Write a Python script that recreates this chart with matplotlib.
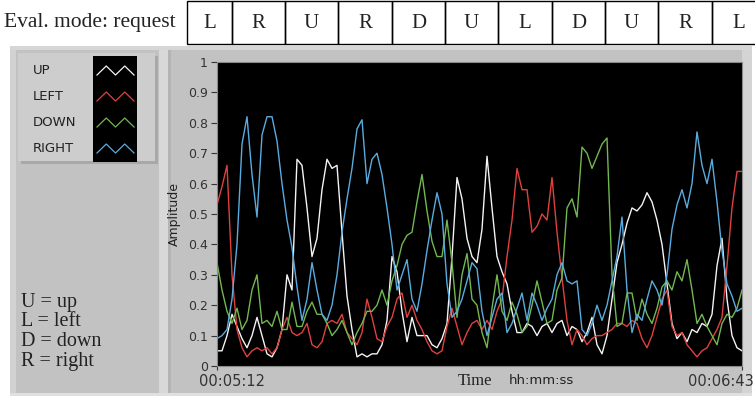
import numpy as np
import matplotlib.pyplot as plt
from matplotlib.patches import Rectangle
import matplotlib.transforms as mtrans

# requested directions shown in the header row
requests = ["L", "R", "U", "R", "D", "U", "L", "D", "U", "R", "L"]

# amplitude traces, sampled evenly between 00:05:12 and 00:06:43 (91 s)
t_start, t_end = 0, 91
up = [0.05, 0.05, 0.10, 0.17, 0.13, 0.09, 0.06, 0.10, 0.16, 0.10,
      0.04, 0.03, 0.06, 0.12, 0.30, 0.25, 0.68, 0.66, 0.52, 0.36,
      0.42, 0.58, 0.68, 0.65, 0.66, 0.44, 0.23, 0.12, 0.03, 0.04,
      0.03, 0.04, 0.04, 0.07, 0.15, 0.36, 0.31, 0.18, 0.08, 0.16,
      0.10, 0.10, 0.10, 0.07, 0.06, 0.09, 0.14, 0.36, 0.62, 0.55,
      0.42, 0.36, 0.34, 0.45, 0.69, 0.52, 0.36, 0.31, 0.27, 0.18,
      0.11, 0.11, 0.14, 0.13, 0.10, 0.13, 0.14, 0.11, 0.14, 0.15,
      0.10, 0.13, 0.12, 0.08, 0.11, 0.16, 0.07, 0.04, 0.10, 0.22,
      0.34, 0.40, 0.47, 0.52, 0.51, 0.53, 0.57, 0.54, 0.48, 0.40,
      0.27, 0.14, 0.09, 0.11, 0.08, 0.12, 0.11, 0.14, 0.13, 0.17,
      0.33, 0.42, 0.22, 0.10, 0.06, 0.05]
left = [0.53, 0.59, 0.66, 0.30, 0.12, 0.06, 0.03, 0.05, 0.06, 0.05,
        0.06, 0.04, 0.06, 0.12, 0.16, 0.11, 0.10, 0.11, 0.14, 0.07,
        0.06, 0.08, 0.14, 0.15, 0.14, 0.17, 0.11, 0.09, 0.07, 0.11,
        0.22, 0.16, 0.09, 0.08, 0.13, 0.16, 0.22, 0.24, 0.16, 0.20,
        0.15, 0.12, 0.08, 0.05, 0.04, 0.05, 0.13, 0.19, 0.13, 0.07,
        0.11, 0.14, 0.15, 0.12, 0.15, 0.12, 0.18, 0.22, 0.36, 0.48,
        0.65, 0.58, 0.58, 0.44, 0.46, 0.50, 0.48, 0.62, 0.44, 0.29,
        0.15, 0.07, 0.12, 0.10, 0.07, 0.09, 0.10, 0.10, 0.11, 0.12,
        0.14, 0.14, 0.13, 0.15, 0.14, 0.09, 0.06, 0.10, 0.16, 0.22,
        0.25, 0.13, 0.10, 0.11, 0.07, 0.05, 0.03, 0.05, 0.06, 0.09,
        0.12, 0.16, 0.33, 0.52, 0.64, 0.64]
down = [0.34, 0.25, 0.18, 0.14, 0.19, 0.12, 0.15, 0.25, 0.30, 0.14,
        0.15, 0.13, 0.18, 0.12, 0.12, 0.21, 0.13, 0.13, 0.18, 0.21,
        0.17, 0.17, 0.14, 0.10, 0.12, 0.15, 0.11, 0.07, 0.11, 0.14,
        0.18, 0.18, 0.20, 0.25, 0.20, 0.28, 0.33, 0.40, 0.43, 0.44,
        0.54, 0.63, 0.51, 0.41, 0.36, 0.36, 0.48, 0.34, 0.16, 0.30,
        0.37, 0.22, 0.20, 0.11, 0.06, 0.19, 0.30, 0.18, 0.15, 0.21,
        0.17, 0.11, 0.13, 0.20, 0.28, 0.21, 0.14, 0.15, 0.25, 0.29,
        0.52, 0.55, 0.49, 0.72, 0.70, 0.65, 0.69, 0.73, 0.75, 0.30,
        0.13, 0.14, 0.24, 0.24, 0.15, 0.22, 0.17, 0.14, 0.19, 0.26,
        0.28, 0.25, 0.31, 0.28, 0.35, 0.25, 0.14, 0.17, 0.13, 0.10,
        0.07, 0.14, 0.17, 0.16, 0.19, 0.25]
right = [0.09, 0.10, 0.12, 0.22, 0.40, 0.73, 0.82, 0.63, 0.49, 0.76,
         0.82, 0.82, 0.74, 0.60, 0.48, 0.39, 0.26, 0.15, 0.22, 0.34,
         0.25, 0.17, 0.15, 0.20, 0.30, 0.44, 0.55, 0.65, 0.78, 0.81,
         0.60, 0.68, 0.70, 0.63, 0.52, 0.40, 0.25, 0.30, 0.35, 0.22,
         0.18, 0.27, 0.38, 0.48, 0.57, 0.50, 0.27, 0.16, 0.18, 0.22,
         0.28, 0.34, 0.32, 0.18, 0.10, 0.16, 0.22, 0.24, 0.11, 0.14,
         0.19, 0.24, 0.15, 0.24, 0.20, 0.15, 0.19, 0.22, 0.30, 0.34,
         0.28, 0.27, 0.28, 0.12, 0.10, 0.14, 0.20, 0.15, 0.20, 0.28,
         0.36, 0.49, 0.25, 0.11, 0.17, 0.15, 0.22, 0.28, 0.25, 0.20,
         0.30, 0.45, 0.53, 0.58, 0.52, 0.60, 0.77, 0.66, 0.60, 0.68,
         0.54, 0.38, 0.27, 0.23, 0.18, 0.19]

series = [("UP", up, "#f4f4f4"), ("LEFT", left, "#e0413e"),
          ("DOWN", down, "#72b850"), ("RIGHT", right, "#5aace0")]
key_lines = ["U = up", "L = left", "D = down", "R = right"]
t = np.linspace(t_start, t_end, len(up))

serif = "Liberation Serif"
sans = "DejaVu Sans"

W, H = 755, 400
fig = plt.figure(figsize=(W / 100, H / 100), dpi=100)
fig.patch.set_facecolor("white")

# background canvas in pixel units (y grows downward)
bg = fig.add_axes([0, 0, 1, 1])
bg.set_xlim(0, W)
bg.set_ylim(H, 0)
bg.axis("off")

# header row
bg.text(4, 23, "Eval. mode: request", fontsize=15.5, family=serif,
        va="center", ha="left", color="#222222")
edges = [187, 232, 285, 338, 392, 445, 498, 552, 605, 658, 712, 765]
for i, lab in enumerate(requests):
    x0, x1 = edges[i], edges[i + 1]
    bg.add_patch(Rectangle((x0, 1), x1 - x0, 43, fill=False, lw=1.0, ec="black"))
    bg.text((x0 + x1) / 2, 23, lab, fontsize=15, family=serif,
            ha="center", va="center", color="#222222")

# LabVIEW style panel
bg.add_patch(Rectangle((10, 46), 742, 350, color="#c2c2c2", lw=0))
bg.add_patch(Rectangle((10, 46), 6, 350, color="#d2d2d2", lw=0))
bg.add_patch(Rectangle((10, 46), 742, 4, color="#d6d6d6", lw=0))
bg.add_patch(Rectangle((159, 50), 9, 344, color="#d8d8d8", lw=0))
bg.add_patch(Rectangle((168, 50), 3, 344, color="#b4b4b4", lw=0))
bg.add_patch(Rectangle((742, 50), 10, 344, color="#d4d4d4", lw=0))
bg.add_patch(Rectangle((10, 393), 742, 3, color="#e0e0e0", lw=0))

# legend box
bg.add_patch(Rectangle((21, 56), 137, 108, color="#a8a8a8", lw=0))
bg.add_patch(Rectangle((18, 53), 137, 108, color="#cdcdcd", lw=0))
bg.add_patch(Rectangle((93, 56), 44, 106, color="black", lw=0))
for i, (name, vals, col) in enumerate(series):
    yc = 70 + i * 26
    bg.text(33, yc, name, fontsize=9.5, family=sans, va="center",
            ha="left", color="#222222")
    zx = np.linspace(97, 134, 5)
    zy = yc + np.array([5, -4, 5, -4, 5])
    bg.plot(zx, zy, color=col, lw=0.9)

for i, s in enumerate(key_lines):
    bg.text(21, 302 + i * 19.7, s, fontsize=14.5, family=serif, va="center",
            ha="left", color="#222222")

bg.text(458, 381, "Time", fontsize=12, family=serif, va="center",
        ha="left", color="#222222")
bg.text(509, 380, "hh:mm:ss", fontsize=9.5, family=sans, va="center",
        ha="left", color="#222222")

# chart
ax = fig.add_axes([217 / W, (H - 366) / H, 525 / W, 304 / H])
ax.set_facecolor("black")
for name, vals, col in series:
    ax.plot(t, vals, color=col, lw=1.0, label=name)
ax.set_xlim(t_start, t_end)
ax.set_ylim(0, 1)
ax.set_yticks(np.arange(0, 1.01, 0.1))
ax.set_yticklabels(["0"] + ["%.1f" % v for v in np.arange(0.1, 0.95, 0.1)] + ["1"])
ax.set_xticks([t_start, t_end])
ax.set_xticklabels(["00:05:12", "00:06:43"])
ax.tick_params(axis="y", length=4.5, width=0.8, pad=2, labelsize=9,
               colors="#333333")
ax.tick_params(axis="x", length=3, width=0.8, pad=3, labelsize=10.5,
               colors="#333333")
for lab in ax.get_yticklabels() + ax.get_xticklabels():
    lab.set_family(sans)
xl = ax.get_xticklabels()
xl[0].set_transform(xl[0].get_transform() + mtrans.ScaledTranslation(0.15, 0, fig.dpi_scale_trans))
xl[1].set_transform(xl[1].get_transform() + mtrans.ScaledTranslation(-0.21, 0, fig.dpi_scale_trans))
for sp in ax.spines.values():
    sp.set_color("#8a8a8a")
    sp.set_linewidth(0.8)
ax.set_ylabel("Amplitude", fontsize=9, family=sans, color="#222222", labelpad=5)

fig.savefig("out.png", dpi=100)
